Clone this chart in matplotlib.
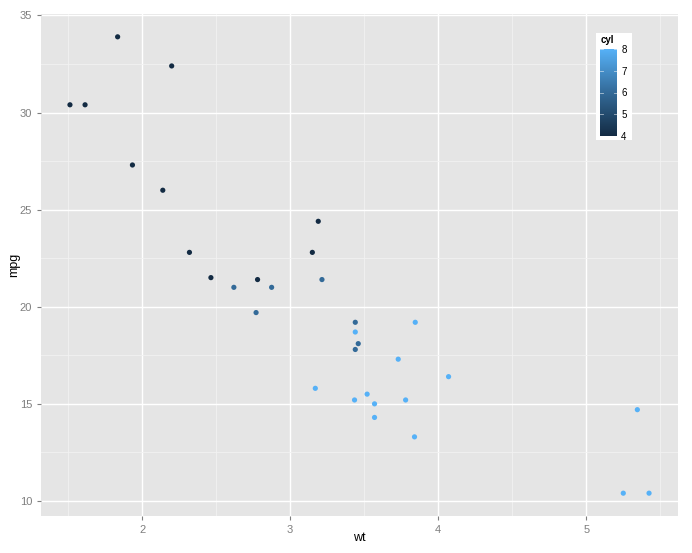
import matplotlib
matplotlib.use('Agg')
import matplotlib.pyplot as plt
from matplotlib.colors import LinearSegmentedColormap
import numpy as np

plt.rcParams['font.family'] = ['Liberation Sans', 'DejaVu Sans']

# mtcars: weight, mpg, cylinders
wt = [2.620, 2.875, 2.320, 3.215, 3.440, 3.460, 3.570, 3.190, 3.150, 3.440,
      3.440, 4.070, 3.730, 3.780, 5.250, 5.424, 5.345, 2.200, 1.615, 1.835,
      2.465, 3.520, 3.435, 3.840, 3.845, 1.935, 2.140, 1.513, 3.170, 2.770,
      3.570, 2.780]
mpg = [21.0, 21.0, 22.8, 21.4, 18.7, 18.1, 14.3, 24.4, 22.8, 19.2,
       17.8, 16.4, 17.3, 15.2, 10.4, 10.4, 14.7, 32.4, 30.4, 33.9,
       21.5, 15.5, 15.2, 13.3, 19.2, 27.3, 26.0, 30.4, 15.8, 19.7,
       15.0, 21.4]
cyl = [6, 6, 4, 6, 8, 6, 8, 4, 4, 6,
       6, 8, 8, 8, 8, 8, 8, 4, 4, 4,
       4, 8, 8, 8, 8, 4, 4, 4, 8, 6,
       8, 4]

x_ticks = [2, 3, 4, 5]
y_ticks = [10, 15, 20, 25, 30, 35]
legend_ticks = [4, 5, 6, 7, 8]

cmap = LinearSegmentedColormap.from_list(
    'gg', [(0, '#132B43'), (0.5, '#336A98'), (1, '#56B1F7')])

fig = plt.figure(figsize=(6.92, 5.53), dpi=100)
ax = fig.add_axes([41 / 692, 37 / 553, 637 / 692, 502 / 553])
ax.set_facecolor('#E5E5E5')
for s in ax.spines.values():
    s.set_visible(False)

xr = max(wt) - min(wt)
yr = max(mpg) - min(mpg)
ax.set_xlim(min(wt) - 0.05 * xr, max(wt) + 0.05 * xr)
ax.set_ylim(min(mpg) - 0.05 * yr, max(mpg) + 0.05 * yr)

ax.set_xticks(x_ticks)
ax.set_yticks(y_ticks)
ax.set_xticks([1.5, 2.5, 3.5, 4.5, 5.5], minor=True)
ax.set_yticks([12.5, 17.5, 22.5, 27.5, 32.5], minor=True)
ax.grid(which='major', color='white', linewidth=1.0)
ax.grid(which='minor', color='#F2F2F2', linewidth=0.6)
ax.set_axisbelow(True)
ax.tick_params(which='major', colors='#7F7F7F', labelcolor='#7F7F7F',
               labelsize=8, length=3, width=0.8)
ax.tick_params(which='minor', length=0)

sc = ax.scatter(wt, mpg, c=cyl, cmap=cmap, vmin=4, vmax=8, s=14,
                linewidths=0, zorder=3)

ax.set_xlabel('wt', fontsize=9)
ax.set_ylabel('mpg', fontsize=9)
ax.xaxis.set_label_coords(0.5, -0.032)
ax.yaxis.set_label_coords(-0.032, 0.5)

# legend box inside the panel
box = fig.add_axes([596 / 692, 1 - 140 / 553, 36 / 692, 107 / 553])
box.set_facecolor('white')
box.set_xticks([])
box.set_yticks([])
for s in box.spines.values():
    s.set_visible(False)
box.text(0.12, 0.93, 'cyl', fontsize=7, fontweight='bold', transform=box.transAxes,
         va='center', ha='left')

cax = fig.add_axes([600 / 692, 1 - 136 / 553, 17 / 692, 87 / 553])
cb = fig.colorbar(sc, cax=cax, ticks=legend_ticks)
cb.outline.set_visible(False)
cax.tick_params(labelsize=7, length=0, pad=3)
for t in legend_ticks:
    cax.axhline(t, xmin=0, xmax=0.2, color='white', linewidth=0.6, alpha=0.6)
    cax.axhline(t, xmin=0.8, xmax=1, color='white', linewidth=0.6, alpha=0.6)

fig.savefig('out.png', dpi=100)
